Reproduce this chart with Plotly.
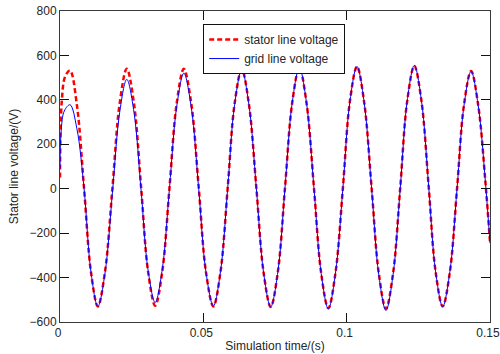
import plotly.graph_objects as go

# Time axis (s) and the two voltage traces (V)
t_stator = [0, 0.0006, 0.0018, 0.0035, 0.0059, 0.0084, 0.0108, 0.0132, 0.0157, 0.0183,
            0.0208, 0.0233, 0.0258, 0.0283, 0.0307, 0.0332, 0.0357, 0.0382, 0.0407, 0.0432,
            0.0458, 0.0484, 0.0509, 0.0535, 0.0560, 0.0585, 0.0609, 0.0634, 0.0659, 0.0685,
            0.0710, 0.0735, 0.0760, 0.0785, 0.0810, 0.0835, 0.0860, 0.0886, 0.0911, 0.0936,
            0.0961, 0.0987, 0.1011, 0.1036, 0.1061, 0.1087, 0.1112, 0.1137, 0.1162, 0.1187,
            0.1211, 0.1236, 0.1261, 0.1286, 0.1310, 0.1335, 0.1360, 0.1385, 0.1409, 0.1434,
            0.1459, 0.1484, 0.1500]
v_stator = [50, 390, 505, 532, 376, 0, -375, -530, -373, 5,
            383, 540, 384, 6, -371, -527, -371, 6, 384, 540,
            383, 5, -373, -530, -374, 4, 382, 538, 381, 3,
            -375, -532, -374, 6, 387, 545, 386, 3, -379, -538,
            -379, 6, 391, 550, 390, 5, -380, -540, -380, 6,
            393, 553, 394, 11, -371, -530, -375, 0, 375, 530,
            375, 30, -240]

t_grid = [0, 0.0004, 0.0015, 0.0035, 0.0059, 0.0084, 0.0108, 0.0132, 0.0157, 0.0183,
          0.0208, 0.0233, 0.0258, 0.0283, 0.0307, 0.0332, 0.0357, 0.0382, 0.0407, 0.0432,
          0.0458, 0.0484, 0.0509, 0.0535, 0.0560, 0.0585, 0.0609, 0.0634, 0.0659, 0.0685,
          0.0710, 0.0735, 0.0760, 0.0785, 0.0810, 0.0835, 0.0860, 0.0886, 0.0911, 0.0936,
          0.0961, 0.0987, 0.1011, 0.1036, 0.1061, 0.1087, 0.1112, 0.1137, 0.1162, 0.1187,
          0.1211, 0.1236, 0.1261, 0.1286, 0.1310, 0.1335, 0.1360, 0.1385, 0.1409, 0.1434,
          0.1459, 0.1484, 0.1500]
v_grid = [90, 260, 350, 378, 270, 0, -375, -530, -380, -15,
          342, 492, 345, -10, -365, -512, -361, 4, 369, 520,
          366, -4, -374, -528, -372, 3, 379, 535, 379, 1,
          -376, -532, -374, 6, 387, 545, 386, 2, -381, -540,
          -380, 5, 390, 550, 389, 1, -387, -548, -386, 3,
          393, 555, 396, 12, -371, -530, -374, -1, 372, 528,
          373, 30, -245]

x_ticks = [0, 0.05, 0.1, 0.15]
x_tick_labels = ["0", "0.05", "0.1", "0.15"]
y_ticks = [-600, -400, -200, 0, 200, 400, 600, 800]

font_family = "Liberation Sans, Arial, sans-serif"
text_color = "#262626"
axis_color = "#3a3a3a"

fig = go.Figure()
fig.add_trace(go.Scatter(
    x=t_stator, y=v_stator, mode="lines", name="stator line voltage",
    line=dict(color="#ff0000", width=2.5, dash="5px,3px", shape="spline", smoothing=1.0),
))
fig.add_trace(go.Scatter(
    x=t_grid, y=v_grid, mode="lines", name="grid line voltage",
    line=dict(color="#0000ff", width=1, shape="spline", smoothing=1.0),
))

axis_common = dict(
    showline=True, linecolor=axis_color, linewidth=1, mirror="ticks",
    ticks="inside", ticklen=9, tickcolor="#111111", tickwidth=1,
    showgrid=False, zeroline=False, ticklabeloverflow="allow", automargin=False,
    tickfont=dict(family=font_family, size=12, color=text_color),
)

fig.update_layout(
    width=500, height=354, autosize=False,
    margin=dict(l=60, r=10, t=11, b=32),
    paper_bgcolor="white", plot_bgcolor="white",
    font=dict(family=font_family, size=12, color=text_color),
    xaxis=dict(range=[0, 0.150001], tickvals=x_ticks, ticktext=x_tick_labels,
               ticklabelshift=-2,
               title=dict(text="Simulation time/(s)", standoff=2,
                          font=dict(family=font_family, size=12, color=text_color)),
               **axis_common),
    yaxis=dict(range=[-600, 800], tickvals=y_ticks,
               title=dict(text="Stator line voltage/(V)", standoff=8,
                          font=dict(family=font_family, size=12, color=text_color)),
               **axis_common),
    legend=dict(x=0.333, y=0.958, xanchor="left", yanchor="top",
                bgcolor="white", bordercolor="#111111", borderwidth=1,
                font=dict(family=font_family, size=12, color=text_color),
                tracegroupgap=0, itemwidth=30),
    showlegend=True,
)

fig.write_html("out.html", config={"displayModeBar": False},
               post_script="document.body.style.margin='0';")
